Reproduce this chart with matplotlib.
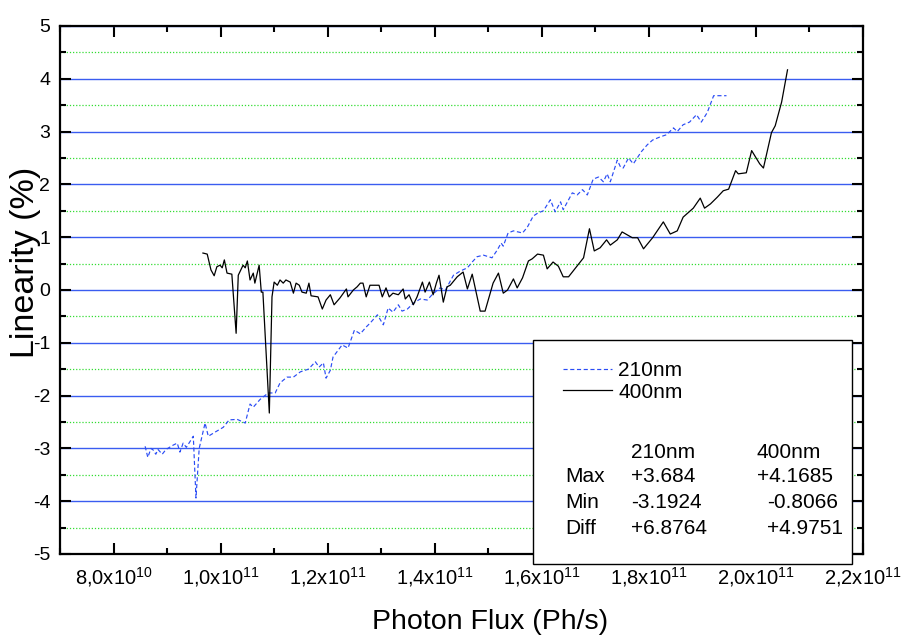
import matplotlib
matplotlib.use('Agg')
import matplotlib.pyplot as plt
from matplotlib.patches import Rectangle
from matplotlib.ticker import MultipleLocator, FixedLocator, FixedFormatter

plt.rcParams['font.family'] = ['Liberation Sans', 'DejaVu Sans']
plt.rcParams['mathtext.default'] = 'regular'
plt.rcParams['axes.unicode_minus'] = False

# photon flux in units of 1e10 Ph/s, linearity in %
flux_210 = [8.59, 8.64, 8.70, 8.74, 8.79, 8.83, 8.91, 8.98, 9.11, 9.19, 9.24, 9.30,
            9.36, 9.41, 9.49, 9.54, 9.60, 9.71, 9.77, 9.90, 10.05, 10.16, 10.31, 10.46,
            10.55, 10.61, 10.74, 10.89, 11.02, 11.11, 11.24, 11.36, 11.49, 11.64, 11.77,
            11.84, 11.92, 11.97, 12.05, 12.10, 12.27, 12.38, 12.50, 12.61, 12.72, 12.79,
            12.93, 13.04, 13.13, 13.22, 13.32, 13.39, 13.49, 13.60, 13.73, 13.86, 13.95,
            14.10, 14.20, 14.35, 14.48, 14.61, 14.70, 14.79, 14.91, 15.07, 15.17, 15.24,
            15.28, 15.37, 15.47, 15.64, 15.73, 15.84, 15.93, 16.03, 16.16, 16.25, 16.35,
            16.40, 16.57, 16.66, 16.76, 16.85, 16.96, 17.06, 17.15, 17.22, 17.28, 17.41,
            17.47, 17.52, 17.62, 17.71, 17.86, 17.97, 18.07, 18.21, 18.33, 18.46, 18.53,
            18.64, 18.76, 18.89, 18.98, 19.09, 19.21, 19.45]
lin_210 = [-2.96, -3.17, -3.00, -3.03, -3.11, -3.02, -3.11, -3.02, -2.94, -2.90, -3.07, -2.90,
           -2.98, -2.90, -2.77, -3.94, -3.00, -2.52, -2.77, -2.69, -2.60, -2.46, -2.45, -2.52,
           -2.16, -2.22, -2.07, -1.95, -1.95, -1.76, -1.65, -1.65, -1.55, -1.50, -1.36,
           -1.46, -1.38, -1.67, -1.52, -1.27, -1.04, -1.10, -0.76, -0.83, -0.70, -0.63,
           -0.47, -0.66, -0.34, -0.42, -0.28, -0.40, -0.36, -0.25, -0.17, -0.19, -0.09,
           0.04, 0.00, 0.28, 0.36, 0.42, 0.53, 0.63, 0.66, 0.61, 0.76, 0.89,
           0.83, 1.08, 1.12, 1.08, 1.19, 1.40, 1.46, 1.50, 1.71, 1.48, 1.67,
           1.52, 1.84, 1.80, 1.90, 1.80, 2.10, 2.14, 2.05, 2.20, 2.05, 2.46,
           2.33, 2.31, 2.50, 2.39, 2.62, 2.75, 2.84, 2.90, 2.94, 3.07, 3.00,
           3.13, 3.18, 3.32, 3.18, 3.36, 3.68, 3.68]

flux_400 = [9.67, 9.75, 9.82, 9.88, 9.93, 9.99, 10.03, 10.07, 10.12, 10.21, 10.29, 10.33,
            10.42, 10.46, 10.50, 10.55, 10.61, 10.64, 10.72, 10.76, 10.79, 10.91, 10.96,
            11.00, 11.06, 11.11, 11.17, 11.22, 11.30, 11.36, 11.41, 11.47, 11.52, 11.60,
            11.65, 11.69, 11.82, 11.90, 11.97, 12.05, 12.12, 12.23, 12.35, 12.38, 12.48,
            12.55, 12.61, 12.66, 12.72, 12.79, 12.96, 13.02, 13.09, 13.15, 13.22, 13.32,
            13.41, 13.45, 13.52, 13.60, 13.67, 13.77, 13.82, 13.90, 13.97, 14.03, 14.08,
            14.16, 14.23, 14.29, 14.42, 14.53, 14.61, 14.70, 14.85, 14.94, 15.09, 15.19,
            15.28, 15.36, 15.47, 15.54, 15.64, 15.75, 15.82, 15.92, 16.03, 16.10, 16.21,
            16.31, 16.40, 16.50, 16.78, 16.89, 16.98, 17.09, 17.21, 17.28, 17.41, 17.50,
            17.69, 17.79, 17.90, 18.07, 18.27, 18.40, 18.53, 18.64, 18.83, 18.96, 19.04,
            19.15, 19.28, 19.39, 19.49, 19.62, 19.67, 19.82, 19.92, 20.07, 20.14, 20.29,
            20.36, 20.48, 20.59]
lin_400 = [0.70, 0.68, 0.38, 0.27, 0.44, 0.47, 0.42, 0.57, 0.32, 0.30, -0.82, 0.28,
           0.47, 0.42, 0.55, 0.19, 0.32, 0.13, 0.47, -0.04, -0.04, -2.33, -0.13,
           0.15, 0.09, 0.19, 0.13, 0.19, 0.15, -0.06, 0.13, 0.09, -0.04, -0.06,
           0.13, -0.11, -0.13, -0.36, -0.19, -0.09, -0.28, -0.15, 0.02, -0.13, 0.00,
           0.06, 0.13, 0.13, -0.13, 0.09, 0.09, -0.13, 0.04, -0.13, -0.06, -0.09,
           0.02, -0.17, -0.09, -0.28, -0.13, 0.15, -0.04, 0.15, -0.09, 0.13, 0.28,
           -0.23, 0.06, 0.09, 0.25, 0.34, 0.02, 0.30, -0.40, -0.40, 0.13, 0.32,
           -0.06, 0.00, 0.21, 0.04, 0.23, 0.55, 0.59, 0.68, 0.66, 0.40, 0.53,
           0.45, 0.25, 0.25, 0.61, 1.16, 0.74, 0.80, 0.95, 0.85, 0.95, 1.10,
           0.99, 0.99, 0.78, 0.99, 1.29, 1.06, 1.12, 1.38, 1.55, 1.74, 1.55,
           1.63, 1.76, 1.88, 1.91, 2.26, 2.20, 2.22, 2.64, 2.39, 2.31, 2.98,
           3.11, 3.56, 4.17]

x_ticks = [8, 10, 12, 14, 16, 18, 20, 22]
x_tick_labels = ['8,0x10$^{10}$', '1,0x10$^{11}$', '1,2x10$^{11}$', '1,4x10$^{11}$',
                 '1,6x10$^{11}$', '1,8x10$^{11}$', '2,0x10$^{11}$', '2,2x10$^{11}$']

stat_header = ['210nm', '400nm']
stat_rows = ['Max', 'Min', 'Diff']
stat_210 = ['+3.684', '-3.1924', '+6.8764']
stat_400 = ['+4.1685', '-0.8066', '+4.9751']

W, H = 903, 639
fig = plt.figure(figsize=(W / 100, H / 100), dpi=100)
ax = fig.add_axes([60 / W, 1 - 554 / H, 803 / W, 528 / H])

blue = '#2a4cf5'
l210, = ax.plot(flux_210, lin_210, color=blue, lw=0.85, dashes=(3.5, 2.2), zorder=3)
l400, = ax.plot(flux_400, lin_400, color='black', lw=0.9, zorder=3)

ax.set_xlim(7, 22)
ax.set_ylim(-5, 5)
ax.xaxis.set_major_locator(FixedLocator(x_ticks))
ax.xaxis.set_major_formatter(FixedFormatter(x_tick_labels))
ax.xaxis.set_minor_locator(MultipleLocator(1))
ax.yaxis.set_major_locator(MultipleLocator(1))
ax.yaxis.set_minor_locator(MultipleLocator(0.5))

ax.grid(which='major', axis='y', color='#3a5cf0', lw=1.0, ls='-')
ax.grid(which='minor', axis='y', color='#33dd33', lw=0.9, ls=(0, (1, 1.5)))
ax.set_axisbelow(True)

ax.tick_params(which='both', direction='in', top=True, right=True, width=1.5)
ax.tick_params(which='major', length=8)
ax.tick_params(which='minor', length=4)
ax.tick_params(axis='x', pad=8, labelsize=14.5)
ax.tick_params(axis='y', pad=7, labelsize=14)
for s in ax.spines.values():
    s.set_linewidth(1.6)

fig.text(26 / W, 1 - 262 / H, 'Linearity (%)', rotation=90, fontsize=24.5,
         ha='center', va='center')
fig.text(490 / W, 1 - 622 / H, 'Photon Flux (Ph/s)', fontsize=20.5,
         ha='center', va='center')

# stats box over the lower right corner
box = Rectangle((533 / W, 1 - 564 / H), 319 / W, 224 / H, transform=fig.transFigure,
                facecolor='white', edgecolor='black', lw=1.0, zorder=5)
fig.add_artist(box)

fs = 15
leg = fig.legend([l210, l400], ['210nm', '400nm'], loc='upper left',
                 bbox_to_anchor=(563 / W, 1 - 361 / H), bbox_transform=fig.transFigure,
                 frameon=False, fontsize=fs, handlelength=2.35, handletextpad=0.3,
                 labelspacing=0.12, borderpad=0, borderaxespad=0)
leg.set_zorder(6)

fig.text(631 / W, 1 - 453 / H, stat_header[0], fontsize=fs, va='center', zorder=6)
fig.text(757 / W, 1 - 453 / H, stat_header[1], fontsize=fs, va='center', zorder=6)
row_y = [477, 503, 529]
col2_x = [757, 767, 767]
for i in range(3):
    fig.text(565 / W, 1 - row_y[i] / H, stat_rows[i], fontsize=fs, va='center', zorder=6)
    fig.text(631 / W, 1 - row_y[i] / H, stat_210[i], fontsize=fs, va='center', zorder=6)
    fig.text(col2_x[i] / W, 1 - row_y[i] / H, stat_400[i], fontsize=fs, va='center', zorder=6)

fig.savefig('out.png', dpi=100)
